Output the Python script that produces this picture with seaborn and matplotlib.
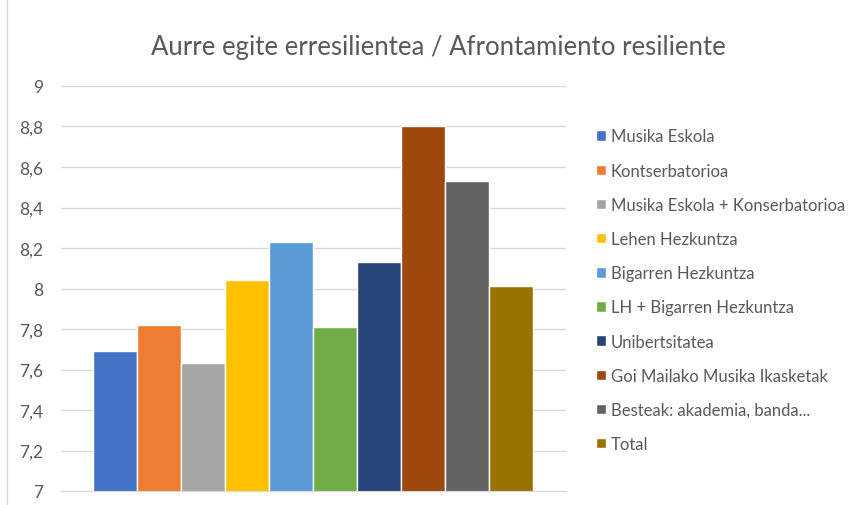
import matplotlib
matplotlib.use("Agg")
import matplotlib.pyplot as plt
import seaborn as sns
import pandas as pd
from matplotlib.ticker import FuncFormatter
from matplotlib.lines import Line2D

categories = ["Musika Eskola", "Kontserbatorioa", "Musika Eskola + Konserbatorioa",
              "Lehen Hezkuntza", "Bigarren Hezkuntza", "LH + Bigarren Hezkuntza",
              "Unibertsitatea", "Goi Mailako Musika Ikasketak",
              "Besteak: akademia, banda...", "Total"]
values = [7.69, 7.82, 7.63, 8.04, 8.23, 7.81, 8.13, 8.80, 8.53, 8.01]
colors = ["#4472C4", "#ED7D31", "#A5A5A5", "#FFC000", "#5B9BD5",
          "#70AD47", "#264478", "#9E480E", "#636363", "#997300"]
yticks = [7, 7.2, 7.4, 7.6, 7.8, 8, 8.2, 8.4, 8.6, 8.8, 9]

df = pd.DataFrame({"cat": categories, "val": values})

sns.set_style("white")
plt.rcParams['font.family'] = ['Lato', 'DejaVu Sans']

fig = plt.figure(figsize=(8.56, 5.06), dpi=100)
ax = fig.add_axes([61/856, 1-492/506, 505/856, (492-87)/506])

sns.barplot(data=df, x="cat", y="val", hue="cat", palette=colors,
            width=1, dodge=False, legend=True, ax=ax, saturation=1)

ax.set_ylim(7, 9)
ax.set_xlim(-1.235, 10.258)
ax.set_yticks(yticks)
ax.yaxis.set_major_formatter(FuncFormatter(lambda v, p: f"{v:g}".replace(".", ",")))
ax.set_xticks([])
ax.set_xlabel("")
ax.set_ylabel("")
ax.grid(axis="y", color="#D9D9D9", linewidth=1)
ax.set_axisbelow(True)
for s in ["top", "right", "left"]:
    ax.spines[s].set_visible(False)
ax.spines["bottom"].set_color("#D9D9D9")
ax.tick_params(axis="y", length=0, pad=13, labelsize=12.5, labelcolor="#595959")

fig.text(438/856, 1-47/506, "Aurre egite erresilientea / Afrontamiento resiliente",
         ha="center", va="center", fontsize=18.5, color="#595959")

handles, labels = ax.get_legend_handles_labels()
ax.legend(handles, labels, loc="upper left", bbox_to_anchor=(596/856, 1-129.5/506),
          bbox_transform=fig.transFigure, frameon=False, fontsize=12,
          labelcolor="#595959", handlelength=0.6, handleheight=0.6,
          handletextpad=0.3, labelspacing=1.09, borderaxespad=0, borderpad=0)

fig.add_artist(Line2D([7/856, 7/856], [0, 1], transform=fig.transFigure,
                      color="#D9D9D9", linewidth=1))

fig.savefig("out.png", dpi=100)
